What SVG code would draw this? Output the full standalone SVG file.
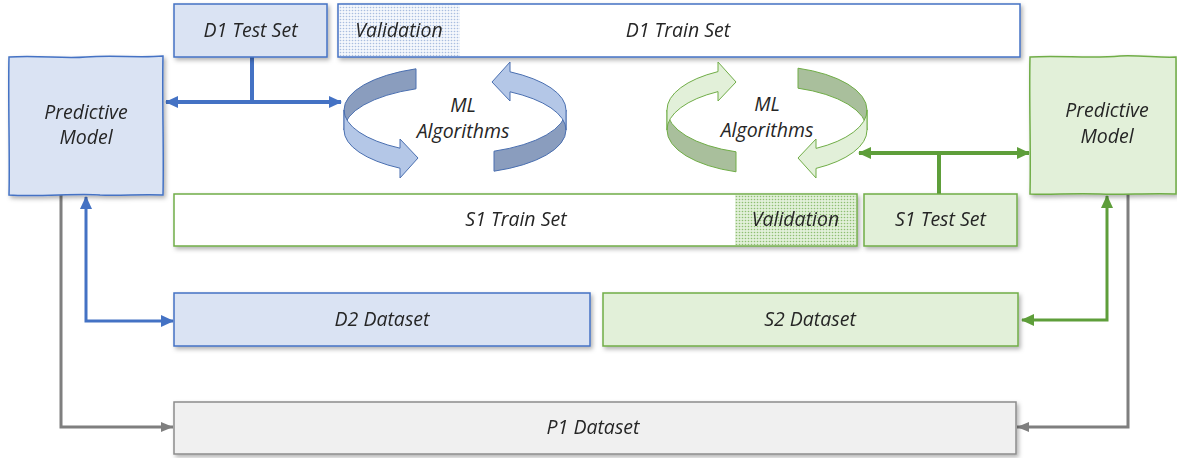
<svg xmlns="http://www.w3.org/2000/svg" width="1177" height="458" viewBox="0 0 1177 458">
  <defs>
    <style>
      .lbl { font-family: "Open Sans", "Noto Sans", sans-serif; font-style: italic; font-size: 19.5px; fill: #262626; text-anchor: middle; }
      .blue { fill: #DAE3F3; stroke: #4472C4; stroke-width: 1.5; }
      .green { fill: #E2F0D9; stroke: #70AD47; stroke-width: 1.5; }
      .gray { fill: #F0F0F0; stroke: #8C8C8C; stroke-width: 1.5; }
      .wblue { fill: #FFFFFF; stroke: #4472C4; stroke-width: 1.5; }
      .wgreen { fill: #FFFFFF; stroke: #70AD47; stroke-width: 1.5; }
      .c-blue { fill: none; stroke: #4472C4; }
      .c-green { fill: none; stroke: #5E9E3A; }
      .c-gray { fill: none; stroke: #7F7F7F; stroke-width: 3; }
      .ring-b-dark { fill: #8A9DBE; stroke: #4A6FB0; stroke-width: 1; }
      .ring-b-light { fill: #B4C7E7; stroke: #4A6FB0; stroke-width: 1; }
      .ring-g-dark { fill: #A9BF9C; stroke: #70AD47; stroke-width: 1; }
      .ring-g-light { fill: #E2F0D9; stroke: #70AD47; stroke-width: 1; }
    </style>
    <filter id="shadow" x="-10%" y="-20%" width="130%" height="150%">
      <feDropShadow dx="2" dy="2.5" stdDeviation="2" flood-color="#000" flood-opacity="0.3"/>
    </filter>
    <pattern id="dotsBlue" width="3" height="3" patternUnits="userSpaceOnUse">
      <rect width="3" height="3" fill="#F4F7FC"/>
      <circle cx="1.5" cy="1.5" r="0.8" fill="#A9BDE0"/>
    </pattern>
    <pattern id="dotsGreen" width="3" height="3" patternUnits="userSpaceOnUse">
      <rect width="3" height="3" fill="#E2F0D9"/>
      <circle cx="1.5" cy="1.5" r="0.8" fill="#8FBF72"/>
    </pattern>
    <marker id="ahBlue" markerUnits="userSpaceOnUse" markerWidth="14" markerHeight="14" refX="12" refY="7" orient="auto-start-reverse">
      <path d="M0,1 L13,7 L0,13 z" fill="#4472C4"/>
    </marker>
    <marker id="ahGreen" markerUnits="userSpaceOnUse" markerWidth="14" markerHeight="14" refX="12" refY="7" orient="auto-start-reverse">
      <path d="M0,1 L13,7 L0,13 z" fill="#5E9E3A"/>
    </marker>
    <marker id="ahGray" markerUnits="userSpaceOnUse" markerWidth="14" markerHeight="14" refX="12" refY="7" orient="auto-start-reverse">
      <path d="M0,2 L12,7 L0,12 z" fill="#7F7F7F"/>
    </marker>
    <!-- one half of each cycle ring; the other half is the same shape turned 180 degrees -->
    <g id="halfBlue">
      <path class="ring-b-dark" d="M416,68.8 A111,44 0 0 0 344,110 L344,130 A111,44 0 0 1 416,88.8 Z"/>
      <path class="ring-b-light" d="M344,110 A111,44 0 0 0 400,148.2 L400,139 L418,158 L400,178 L400,168.2 A111,44 0 0 1 344,130 Z"/>
    </g>
    <g id="halfGreen">
      <path class="ring-g-dark" d="M798,68.2 A100,44 0 0 1 867,110 L867,130 A100,44 0 0 0 798,88.2 Z"/>
      <path class="ring-g-light" d="M867,110 A100,44 0 0 1 816,148.4 L816,139 L798,158 L816,178 L816,168.4 A100,44 0 0 0 867,130 Z"/>
    </g>
  </defs>

  <rect width="1177" height="458" fill="#FFFFFF"/>

  <!-- connectors -->
  <g id="connectors">
    <path class="c-blue" stroke-width="4" d="M252,57 L252,102"/>
    <path class="c-blue" stroke-width="4" d="M166,102 L341,102" marker-start="url(#ahBlue)" marker-end="url(#ahBlue)"/>
    <path class="c-green" stroke-width="4" d="M939,153 L939,194"/>
    <path class="c-green" stroke-width="4" d="M859,153 L1029,153" marker-start="url(#ahGreen)" marker-end="url(#ahGreen)"/>
    <path class="c-blue" stroke-width="3" d="M86,197 L86,321 L173,321" marker-start="url(#ahBlue)" marker-end="url(#ahBlue)"/>
    <path class="c-gray" d="M61,195 L61,427 L173,427" marker-end="url(#ahGray)"/>
    <path class="c-green" stroke-width="3" d="M1107,196 L1107,320 L1022,320" marker-start="url(#ahGreen)" marker-end="url(#ahGreen)"/>
    <path class="c-gray" d="M1128,194 L1128,427 L1017,427" marker-end="url(#ahGray)"/>
  </g>

  <!-- top row: D1 split -->
  <g id="d1-test" filter="url(#shadow)">
    <rect class="blue" x="174" y="4" width="153" height="53"/>
    <text class="lbl" x="250.5" y="37">D1 Test Set</text>
  </g>
  <g id="d1-train" filter="url(#shadow)">
    <rect class="wblue" x="338" y="4" width="682" height="53"/>
    <rect x="339" y="5" width="121" height="51" fill="url(#dotsBlue)"/>
    <text class="lbl" x="399" y="37">Validation</text>
    <text class="lbl" x="678" y="37">D1 Train Set</text>
  </g>

  <!-- predictive models -->
  <g id="model-left" filter="url(#shadow)">
    <path class="blue" d="M9,57 C40,55 62,59 86,57 C112,55 140,58 163,56 C162,100 164,150 163,195 C140,194 120,196 100,195 C78,193 40,197 9,195 C10,160 8,100 9,57 Z"/>
    <text class="lbl" x="86" y="119">Predictive</text>
    <text class="lbl" x="86" y="144">Model</text>
  </g>
  <g id="model-right" filter="url(#shadow)">
    <path class="green" d="M1030,57 C1060,55 1090,59 1120,56 C1140,55 1160,58 1176,57 L1176,194 C1150,193 1120,195 1100,194 C1070,193 1050,195 1030,194 C1031,150 1029,100 1030,57 Z"/>
    <text class="lbl" x="1107" y="117">Predictive</text>
    <text class="lbl" x="1107" y="143">Model</text>
  </g>

  <!-- ML algorithm cycles -->
  <g id="ml-left">
    <use href="#halfBlue"/>
    <use href="#halfBlue" transform="rotate(180 455 120)"/>
    <text class="lbl" x="463" y="112">ML</text>
    <text class="lbl" x="463" y="138">Algorithms</text>
  </g>
  <g id="ml-right">
    <use href="#halfGreen"/>
    <use href="#halfGreen" transform="rotate(180 767 120)"/>
    <text class="lbl" x="767" y="111">ML</text>
    <text class="lbl" x="767" y="137">Algorithms</text>
  </g>

  <!-- S1 split -->
  <g id="s1-train" filter="url(#shadow)">
    <rect class="wgreen" x="174" y="194" width="683" height="52"/>
    <rect x="735" y="195" width="121" height="50" fill="url(#dotsGreen)"/>
    <text class="lbl" x="516" y="226">S1 Train Set</text>
    <text class="lbl" x="795.5" y="226">Validation</text>
  </g>
  <g id="s1-test" filter="url(#shadow)">
    <rect class="green" x="864" y="194" width="153" height="52"/>
    <text class="lbl" x="940.5" y="226">S1 Test Set</text>
  </g>

  <!-- datasets -->
  <g id="d2" filter="url(#shadow)">
    <rect class="blue" x="174" y="293" width="416" height="53"/>
    <text class="lbl" x="382" y="326">D2 Dataset</text>
  </g>
  <g id="s2" filter="url(#shadow)">
    <rect class="green" x="603" y="293" width="415" height="53"/>
    <text class="lbl" x="810" y="326">S2 Dataset</text>
  </g>
  <g id="p1" filter="url(#shadow)">
    <rect class="gray" x="174" y="402" width="842" height="52"/>
    <text class="lbl" x="593" y="434">P1 Dataset</text>
  </g>
</svg>
